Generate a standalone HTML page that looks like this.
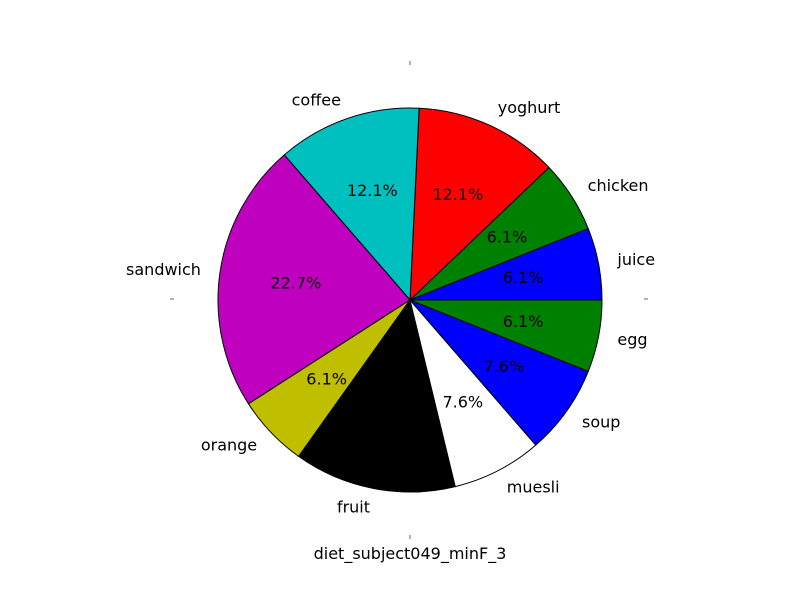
<!DOCTYPE html>
<html><head><meta charset="utf-8"><style>body{margin:0;background:#fff}svg{display:block}text{font-family:"DejaVu Sans","Liberation Sans",sans-serif;font-size:16px}</style></head>
<body>
<svg id="c" width="800" height="600">
<rect width="800" height="600" fill="#fff"/>
</svg>
<script>
const categories=["juice","chicken","yoghurt","coffee","sandwich","orange","fruit","muesli","soup","egg"];
const values=[4,4,8,8,15,4,9,5,5,4];
const colors=["#0000ff","#008000","#ff0000","#00bfbf","#bf00bf","#bfbf00","#000000","#ffffff","#0000ff","#008000"];
const svg=document.getElementById('c');
const NS="http://www.w3.org/2000/svg";
const cx=410,cy=300,r=192;
const total=values.reduce((a,b)=>a+b,0);
function pt(a,rr){return [cx+rr*Math.cos(a),cy-rr*Math.sin(a)];}
let start=0;
values.forEach((v,i)=>{
  const sweep=v/total*2*Math.PI,end=start+sweep;
  const [x1,y1]=pt(start,r),[x2,y2]=pt(end,r);
  const p=document.createElementNS(NS,'path');
  p.setAttribute('d',`M${cx},${cy}L${x1},${y1}A${r},${r} 0 ${sweep>Math.PI?1:0} 0 ${x2},${y2}Z`);
  p.setAttribute('fill',colors[i]);p.setAttribute('stroke','#000');p.setAttribute('stroke-width','1');
  p.setAttribute('stroke-linejoin','round');
  
  
  svg.appendChild(p);
  const mid=(start+end)/2;
  const [lx,ly]=pt(mid,r*1.1);
  const t=document.createElementNS(NS,'text');
  t.setAttribute('x',lx);t.setAttribute('y',ly+5);
  t.setAttribute('text-anchor',Math.cos(mid)>=0?'start':'end');
  t.textContent=categories[i];
  
  
  svg.appendChild(t);
  const [px,py]=pt(mid,r*0.6);
  const q=document.createElementNS(NS,'text');
  q.setAttribute('x',px);q.setAttribute('y',py+5);q.setAttribute('text-anchor','middle');
  q.textContent=(v/total*100).toFixed(1)+'%';
  
  
  svg.appendChild(q);
  start=end;
});
[[410,61,410,65],[410,535,410,539],[170,299,174,299],[644,299,648,299]].forEach((l,i)=>{
  const e=document.createElementNS(NS,'line');
  e.setAttribute('x1',l[0]);e.setAttribute('y1',l[1]);e.setAttribute('x2',l[2]);e.setAttribute('y2',l[3]);
  e.setAttribute('stroke','#000');e.setAttribute('stroke-width','0.6');
  
  
  svg.appendChild(e);
});
const ti=document.createElementNS(NS,'text');
ti.setAttribute('x',410);ti.setAttribute('y',559);ti.setAttribute('text-anchor','middle');
ti.textContent='diet_subject049_minF_3';


svg.appendChild(ti);
</script>
</body></html>
